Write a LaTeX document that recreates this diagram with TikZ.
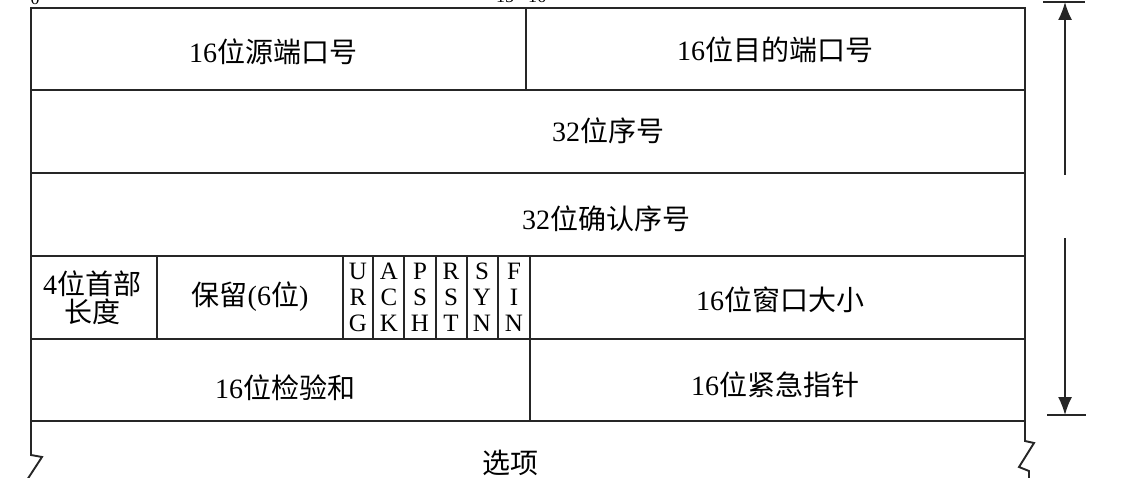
\documentclass[tikz,border=0pt]{standalone}
\usepackage{fontspec}
\setmainfont{Liberation Serif}
\newfontfamily\cjk{Noto Sans CJK SC}
\usetikzlibrary{arrows.meta}
\newcommand{\zh}[1]{{\cjk #1}}
\begin{document}
\begin{tikzpicture}[x=1pt,y=-1pt,
  ln/.style={draw=black!85, line width=1.9pt},
  lbl/.style={font=\fontsize{28}{31}\selectfont, inner sep=0pt, align=center},
  flag/.style={font=\fontsize{25}{26}\selectfont, inner sep=0pt, align=center},
  bitno/.style={font=\fontsize{18}{20}\selectfont, inner sep=0pt, anchor=base},
  dim/.style={draw=black!85, line width=1.7pt, -{Latex[length=18pt,width=14pt]}}]
\useasboundingbox (0,0) rectangle (1123,478);
\clip (0,0) rectangle (1123,478);
% bit numbers (cut off at top edge, as in the reference)
\node[bitno] (b0) at (35,5) {0};
\node[bitno] (b15) at (505,3) {15};
\node[bitno] (b16) at (537,3) {16};
% outer frame
\draw[ln] (31,456) -- (31,8) -- (1025,8) -- (1025,442);
\draw[ln] (31,455) -- (42,457) -- (27,480);
\draw[ln] (1025,441) -- (1034,443) -- (1019,467) -- (1029,471) -- (1029,480);
% row lines
\foreach \y in {90,173,256,339,421} \draw[ln] (31,\y) -- (1025,\y);
% verticals
\draw[ln] (526,8) -- (526,90);
\draw[ln] (157,256) -- (157,339);
\foreach \x in {343,373,404,436,467,498,530} \draw[ln] (\x,256) -- (\x,339);
\draw[ln] (530,339) -- (530,421);
% labels
\node[lbl] (sport) at (273,52) {16\zh{位源端口号}};
\node[lbl] (dport) at (775,50) {16\zh{位目的端口号}};
\node[lbl] (seq) at (608,131) {32\zh{位序号}};
\node[lbl] (ack) at (606,219) {32\zh{位确认序号}};
\node[lbl] (hlen) at (92,298) {4\zh{位首部}\\[-3pt]\zh{长度}};
\node[lbl] (resv) at (250,297) {\zh{保留}(6\zh{位})};
\node[flag] (urg) at (358,297) {U\\R\\G};
\node[flag] (fack) at (389,297) {A\\C\\K};
\node[flag] (psh) at (420,297) {P\\S\\H};
\node[flag] (rst) at (451,297) {R\\S\\T};
\node[flag] (syn) at (482,297) {S\\Y\\N};
\node[flag] (fin) at (514,297) {F\\I\\N};
\node[lbl] (win) at (780,300) {16\zh{位窗口大小}};
\node[lbl] (csum) at (285,388) {16\zh{位检验和}};
\node[lbl] (urgp) at (775,385) {16\zh{位紧急指针}};
\node[lbl] (opt) at (510,463) {\zh{选项}};
% height dimension
\coordinate (tl) at (1043,2);
\coordinate (tr) at (1085,2);
\coordinate (bl) at (1047,415);
\coordinate (br) at (1086,415);
\coordinate (upS) at (1065,175);
\coordinate (upE) at (1065,2);
\coordinate (dnS) at (1065,238);
\coordinate (dnE) at (1065,415);
\draw[ln] (tl) -- (tr);
\draw[ln] (bl) -- (br);
\draw[dim] (upS) -- (upE);
\draw[dim] (dnS) -- (dnE);
\end{tikzpicture}
\end{document}
